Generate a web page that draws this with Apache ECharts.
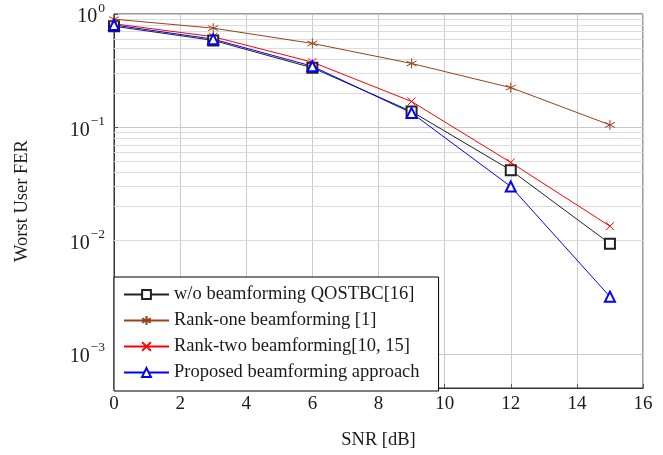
<!DOCTYPE html>
<html>
<head>
<meta charset="utf-8">
<script src="https://cdn.jsdelivr.net/npm/echarts@6/dist/echarts.min.js"></script>
<style>
  html, body { margin: 0; padding: 0; background: #fff; }
  #chart { width: 663px; height: 455px; }
</style>
</head>
<body>
<div id="chart"></div>
<script>
// SNR points (dB)
const snr = [0, 3, 6, 9, 12, 15];
// worst user FER per scheme
const ferNoBf = [0.78, 0.585, 0.335, 0.138, 0.0418, 0.0094];
const ferRankOne = [0.90, 0.75, 0.55, 0.366, 0.224, 0.105];
const ferRankTwo = [0.82, 0.63, 0.376, 0.169, 0.0489, 0.0134];
const ferProposed = [0.80, 0.60, 0.346, 0.134, 0.030, 0.0032];
const seriesNames = [
  'w/o beamforming QOSTBC[16]',
  'Rank-one beamforming [1]',
  'Rank-two beamforming[10, 15]',
  'Proposed beamforming approach'
];
const yMin = 0.0005, yMax = 1;

const serif = '"Liberation Serif", "DejaVu Serif", serif';
const txt = '#1a1a1a';

// minor grid values 2..9 x 10^k inside the axis range
const minorVals = [];
for (let k = -4; k < 0; k++) {
  for (let m = 2; m <= 9; m++) {
    const v = m * Math.pow(10, k);
    if (v >= yMin && v < yMax) minorVals.push(+v.toPrecision(3));
  }
}

const pairs = arr => snr.map((x, i) => [x, arr[i]]);

const chart = echarts.init(document.getElementById('chart'));

function lineSeries(name, data, color, symbol, size) {
  return {
    name: name,
    type: 'line',
    data: pairs(data),
    symbol: symbol,
    symbolSize: size,
    showSymbol: true,
    lineStyle: { color: color, width: 1 },
    itemStyle: { color: color, borderColor: color, borderWidth: 1 },
    emphasis: { disabled: true },
    animation: false,
    z: 3
  };
}

const option = {
  backgroundColor: '#fff',
  grid: {
    left: 114, right: 20, top: 14, bottom: 64,
    show: true, borderColor: '#333', borderWidth: 1, backgroundColor: 'transparent'
  },
  legend: {
    orient: 'vertical',
    left: 114,
    bottom: 64,
    data: seriesNames,
    backgroundColor: '#fff',
    borderColor: '#000',
    borderWidth: 1,
    borderRadius: 0,
    padding: [8, 19, 9, 9],
    itemWidth: 45,
    itemHeight: 11,
    itemGap: 7,
    textStyle: { fontFamily: serif, fontSize: 18.5, color: txt },
    z: 10
  },
  xAxis: {
    type: 'value',
    min: 0, max: 16, interval: 2,
    name: 'SNR [dB]',
    nameLocation: 'middle',
    nameGap: 43,
    nameTextStyle: { fontFamily: serif, fontSize: 18.5, color: txt },
    axisLine: { show: true, onZero: false, lineStyle: { color: '#333', width: 1 } },
    axisTick: { show: true, inside: true, length: 4, lineStyle: { color: '#555' } },
    axisLabel: { fontFamily: serif, fontSize: 19, color: txt, margin: 7 },
    splitLine: { show: true, lineStyle: { color: '#cccccc', width: 1 } }
  },
  yAxis: {
    type: 'log',
    logBase: 10,
    min: yMin, max: yMax,
    name: 'Worst User FER',
    nameLocation: 'middle',
    nameGap: 82,
    nameTextStyle: { fontFamily: serif, fontSize: 18.5, color: txt },
    axisLine: { show: true, lineStyle: { color: '#333', width: 1 } },
    axisTick: { show: true, inside: true, length: 4, lineStyle: { color: '#555' } },
    axisLabel: {
      margin: 9,
      formatter: function (v) {
        const e = Math.log10(v);
        const r = Math.round(e);
        if (Math.abs(e - r) > 1e-6) return '';
        return '{b|10}{s|' + (r < 0 ? '\u2212' + (-r) : r) + '}';
      },
      rich: {
        b: { fontFamily: serif, fontSize: 20, color: txt, lineHeight: 26, verticalAlign: 'bottom' },
        s: { fontFamily: serif, fontSize: 13.5, color: txt, lineHeight: 26, verticalAlign: 'top', padding: [0, 0, 0, 1] }
      }
    },
    splitLine: { show: true, lineStyle: { color: '#c8c8c8', width: 1 } }
  },
  series: [
    {
      name: 'minor-grid',
      type: 'line',
      data: [],
      silent: true,
      animation: false,
      z: 1,
      markLine: {
        z: 1,
        silent: true,
        animation: false,
        symbol: ['none', 'none'],
        label: { show: false },
        lineStyle: { color: '#dcdcdc', width: 1, type: 'solid' },
        emphasis: { disabled: true },
        data: minorVals.map(v => ({ yAxis: v }))
      }
    },
    lineSeries(seriesNames[0], ferNoBf, '#222222', 'emptyRect', 10),
    lineSeries(seriesNames[1], ferRankOne, '#98431a',
      'path://M5,0L5,10M0.67,2.5L9.33,7.5M0.67,7.5L9.33,2.5', 10),
    lineSeries(seriesNames[2], ferRankTwo, '#ff0000',
      'path://M0,0L10,10M10,0L0,10', 8),
    lineSeries(seriesNames[3], ferProposed, '#0000ff', 'emptyTriangle', 10)
  ]
};

chart.setOption(option);
</script>
</body>
</html>
